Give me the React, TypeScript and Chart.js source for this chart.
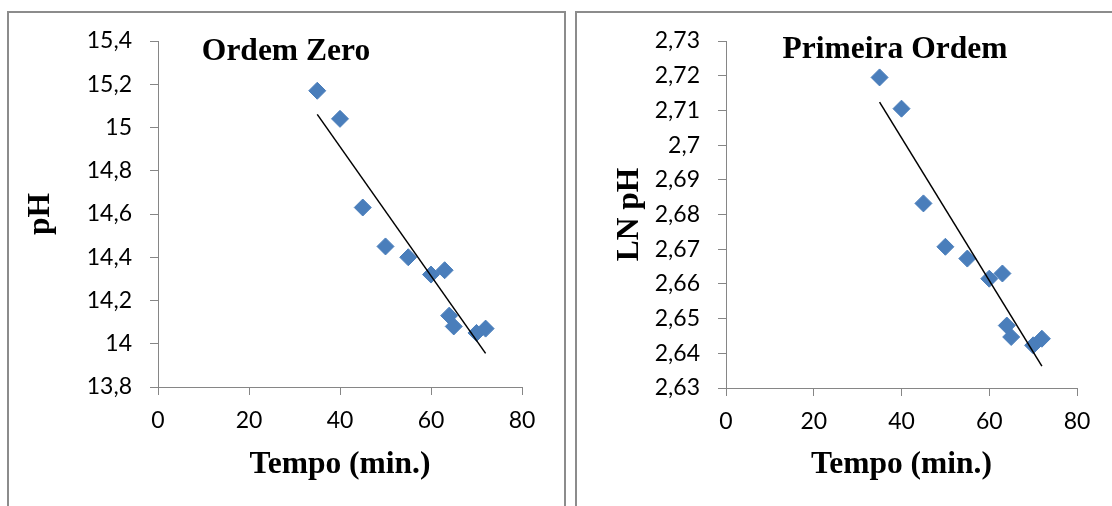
import React, { useEffect, useRef } from 'react';
import { Chart, registerables } from 'chart.js';

Chart.register(...registerables);

// ---- data ----
const tempo = [35, 40, 45, 50, 55, 60, 63, 64, 65, 70, 72];
const phValues = [15.17, 15.04, 14.63, 14.45, 14.40, 14.32, 14.34, 14.13, 14.08, 14.05, 14.07];
const lnPhValues = [2.7195, 2.7105, 2.6832, 2.6707, 2.6673, 2.6615, 2.6630, 2.6480, 2.6447, 2.6423, 2.6442];
const xTickValues = [0, 20, 40, 60, 80];
const phTickValues = [13.8, 14, 14.2, 14.4, 14.6, 14.8, 15, 15.2, 15.4];
const lnTickValues = [2.63, 2.64, 2.65, 2.66, 2.67, 2.68, 2.69, 2.7, 2.71, 2.72, 2.73];
const titles = ['Ordem Zero', 'Primeira Ordem'];
const yTitles = ['pH', 'LN pH'];
const xTitle = 'Tempo (min.)';

const MARKER = '#4A7EBB';
const AXIS = '#868686';
const FRAME = '#8c8c8c';
const TICK_FONT = { family: 'Lato, "Open Sans", sans-serif', size: 23 };
const BOLD_FONT = { family: '"Liberation Serif", "Times New Roman", serif', size: 31.5, weight: 'bold' as const };

function linearFit(xs: number[], ys: number[]) {
  const n = xs.length;
  const mx = xs.reduce((a, b) => a + b, 0) / n;
  const my = ys.reduce((a, b) => a + b, 0) / n;
  let sxy = 0, sxx = 0;
  for (let i = 0; i < n; i++) {
    sxy += (xs[i] - mx) * (ys[i] - my);
    sxx += (xs[i] - mx) * (xs[i] - mx);
  }
  const slope = sxy / sxx;
  const icpt = my - slope * mx;
  const x0 = Math.min(...xs), x1 = Math.max(...xs);
  return [{ x: x0, y: icpt + slope * x0 }, { x: x1, y: icpt + slope * x1 }];
}

const fmt = (v: number) => String(parseFloat(v.toFixed(3))).replace('.', ',');

const panelTitlePlugin = {
  id: 'panelTitle',
  afterDraw(chart: any, _args: any, opts: any) {
    const ctx = chart.ctx;
    ctx.save();
    ctx.font = `bold ${BOLD_FONT.size}px ${BOLD_FONT.family}`;
    ctx.fillStyle = '#000';
    ctx.textAlign = 'center';
    ctx.textBaseline = 'middle';
    ctx.fillText(opts.text, opts.x, opts.y);
    ctx.restore();
  },
};

type Spec = {
  width: number;
  height: number;
  plot: { left: number; right: number; top: number; bottom: number };
  ys: number[];
  yTicks: number[];
  title: string;
  titleX: number;
  titleY: number;
  yTitle: string;
  yTitlePad: number;
};

function Panel({ spec, left }: { spec: Spec; left: number }) {
  const ref = useRef<HTMLCanvasElement>(null);
  useEffect(() => {
    const canvas = ref.current!;
    const { plot, width, height } = spec;
    const pts = tempo.map((x, i) => ({ x, y: spec.ys[i] }));
    const chart = new Chart(canvas, {
      type: 'scatter',
      data: {
        datasets: [
          {
            data: linearFit(tempo, spec.ys),
            showLine: true,
            borderColor: '#000',
            borderWidth: 1.5,
            pointRadius: 0,
            fill: false,
          } as any,
          {
            data: pts,
            pointStyle: 'rectRot',
            pointRadius: 8.5,
            backgroundColor: MARKER,
            borderColor: MARKER,
            borderWidth: 1,
          },
        ],
      },
      options: {
        animation: false,
        responsive: false,
        maintainAspectRatio: false,
        events: [],
        layout: { padding: { left: 0, top: plot.top, right: width - plot.right, bottom: 0 } },
        plugins: {
          legend: { display: false },
          tooltip: { enabled: false },
          panelTitle: { text: spec.title, x: spec.titleX, y: spec.titleY },
        } as any,
        scales: {
          x: {
            type: 'linear',
            position: 'bottom',
            min: xTickValues[0],
            max: xTickValues[xTickValues.length - 1],
            afterBuildTicks: (s: any) => { s.ticks = xTickValues.map((v) => ({ value: v })); },
            afterFit: (s: any) => { s.height = height - plot.bottom; },
            grid: { drawOnChartArea: false, drawTicks: true, tickLength: 8, color: AXIS, lineWidth: 1 },
            border: { display: true, color: AXIS, width: 1 },
            ticks: { color: '#000', font: TICK_FONT, padding: 12, maxRotation: 0, autoSkip: false, callback: (v: any) => fmt(Number(v)) },
            title: { display: true, text: xTitle, color: '#000', font: BOLD_FONT, padding: { top: 0, bottom: 22 } },
          },
          y: {
            type: 'linear',
            position: 'left',
            min: spec.yTicks[0],
            max: spec.yTicks[spec.yTicks.length - 1],
            afterBuildTicks: (s: any) => { s.ticks = spec.yTicks.map((v) => ({ value: v })); },
            afterFit: (s: any) => { s.width = plot.left; },
            grid: { drawOnChartArea: false, drawTicks: true, tickLength: 8, color: AXIS, lineWidth: 1 },
            border: { display: true, color: AXIS, width: 1 },
            ticks: { color: '#000', font: TICK_FONT, padding: 18, autoSkip: false, callback: (v: any) => fmt(Number(v)) },
            title: { display: true, text: spec.yTitle, color: '#000', font: BOLD_FONT, padding: { top: spec.yTitlePad, bottom: 0 } },
          },
        },
      },
      plugins: [panelTitlePlugin as any],
    });
    return () => chart.destroy();
  }, [spec]);
  return (
    <canvas
      ref={ref}
      width={spec.width}
      height={spec.height}
      style={{ position: 'absolute', left, top: 0, width: spec.width, height: spec.height }}
    />
  );
}

const leftSpec: Spec = {
  width: 566,
  height: 506,
  plot: { left: 158, right: 522, top: 41, bottom: 387 },
  ys: phValues,
  yTicks: phTickValues,
  title: titles[0],
  titleX: 286,
  titleY: 52,
  yTitle: yTitles[0],
  yTitlePad: 22,
};

const rightSpec: Spec = {
  width: 546,
  height: 506,
  plot: { left: 160, right: 511, top: 41, bottom: 388 },
  ys: lnPhValues,
  yTicks: lnTickValues,
  title: titles[1],
  titleX: 329,
  titleY: 50,
  yTitle: yTitles[1],
  yTitlePad: 45,
};

export default function App() {
  return (
    <div style={{ position: 'fixed', left: 0, top: 0, width: 1112, height: 506, background: '#fff', overflow: 'hidden' }}>
      <div style={{ position: 'absolute', left: 7, top: 11, width: 555, height: 600, borderLeft: `2px solid ${FRAME}`, borderTop: `2px solid ${FRAME}`, borderRight: `2px solid ${FRAME}` }} />
      <div style={{ position: 'absolute', left: 575, top: 11, width: 700, height: 600, borderLeft: `2px solid ${FRAME}`, borderTop: `2px solid ${FRAME}` }} />
      <Panel spec={leftSpec} left={0} />
      <Panel spec={rightSpec} left={566} />
    </div>
  );
}
